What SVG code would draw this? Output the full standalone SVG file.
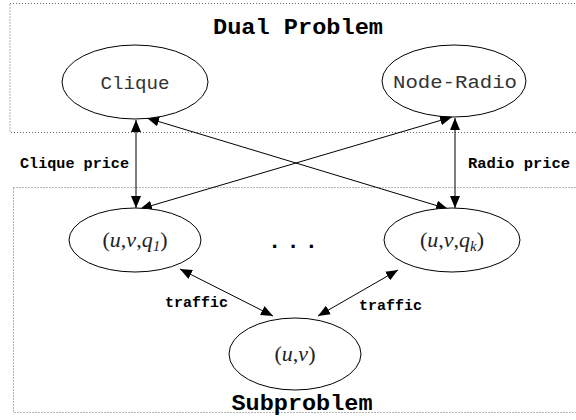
<svg xmlns="http://www.w3.org/2000/svg" width="576" height="420" viewBox="0 0 576 420">
  <style>
    .box { fill: none; stroke: #666; stroke-width: 1; stroke-dasharray: 1 2; }
    .node { fill: #fff; stroke: #000; stroke-width: 1; }
    .title { font-family: "Liberation Mono", "DejaVu Sans Mono", monospace; font-weight: bold; font-size: 22px; fill: #000; }
    .lbl { font-family: "Liberation Mono", "DejaVu Sans Mono", monospace; font-size: 18px; fill: #333; }
    .elbl { font-family: "Liberation Mono", "DejaVu Sans Mono", monospace; font-weight: bold; font-size: 14px; fill: #000; }
    .math { font-family: "Liberation Serif", "Times New Roman", serif; font-size: 22px; fill: #222; }
    .it { font-style: italic; }
    .edge { stroke: #000; stroke-width: 1; fill: none; marker-start: url(#ah); marker-end: url(#ah); }
  </style>
  <defs>
    <marker id="ah" viewBox="0 0 12 10" refX="12" refY="5" markerWidth="12" markerHeight="10" markerUnits="userSpaceOnUse" orient="auto-start-reverse">
      <path d="M0,0 L12,5 L0,10 Z" fill="#000"/>
    </marker>
  </defs>
  <rect width="576" height="420" fill="#fff"/>

  <g id="dual-problem">
    <rect class="box" x="10" y="3.5" width="580" height="129"/>
    <text class="title" x="298" y="34" text-anchor="middle" textLength="170" lengthAdjust="spacingAndGlyphs">Dual Problem</text>
  </g>
  <g id="subproblem">
    <rect class="box" x="13.5" y="187.5" width="580" height="225"/>
    <text class="title" x="302" y="410" text-anchor="middle" textLength="141" lengthAdjust="spacingAndGlyphs">Subproblem</text>
  </g>

  <g id="connectors">
    <line class="edge" x1="136" y1="120" x2="136" y2="208"/>
    <line class="edge" x1="455" y1="118" x2="455" y2="208"/>
    <line class="edge" x1="452" y1="117" x2="140" y2="209"/>
    <line class="edge" x1="147" y1="118" x2="448" y2="209"/>
    <line class="edge" x1="180" y1="269" x2="273" y2="316"/>
    <line class="edge" x1="398" y1="270" x2="318" y2="316"/>
    <text class="elbl" x="20" y="168" textLength="109" lengthAdjust="spacingAndGlyphs">Clique price</text>
    <text class="elbl" x="468" y="168" textLength="102" lengthAdjust="spacingAndGlyphs">Radio price</text>
    <text class="elbl" x="165" y="307" textLength="63" lengthAdjust="spacingAndGlyphs">traffic</text>
    <text class="elbl" x="359" y="310" textLength="63" lengthAdjust="spacingAndGlyphs">traffic</text>
  </g>

  <g id="clique">
    <ellipse class="node" cx="135" cy="82" rx="73" ry="37"/>
    <text class="lbl" x="135" y="89" text-anchor="middle" textLength="69" lengthAdjust="spacingAndGlyphs">Clique</text>
  </g>
  <g id="node-radio">
    <ellipse class="node" cx="454" cy="81" rx="72" ry="36"/>
    <text class="lbl" x="455" y="88" text-anchor="middle" textLength="124" lengthAdjust="spacingAndGlyphs">Node-Radio</text>
  </g>
  <g id="uvq1">
    <ellipse class="node" cx="135" cy="240" rx="66" ry="32"/>
    <text class="math" x="135" y="247" text-anchor="middle">(<tspan class="it">u</tspan>,<tspan class="it">v</tspan>,<tspan class="it">q</tspan><tspan class="it" font-size="15" dy="4">1</tspan><tspan dy="-4">)</tspan></text>
  </g>
  <g id="dots">
    <text class="title" x="293" y="248" text-anchor="middle" textLength="50" lengthAdjust="spacing">. . .</text>
  </g>
  <g id="uvqk">
    <ellipse class="node" cx="452" cy="240" rx="68" ry="32"/>
    <text class="math" x="452" y="247" text-anchor="middle">(<tspan class="it">u</tspan>,<tspan class="it">v</tspan>,<tspan class="it">q</tspan><tspan class="it" font-size="15" dy="4">k</tspan><tspan dy="-4">)</tspan></text>
  </g>
  <g id="uv">
    <ellipse class="node" cx="295" cy="354" rx="66" ry="36"/>
    <text class="math" x="295" y="361" text-anchor="middle">(<tspan class="it">u</tspan>,<tspan class="it">v</tspan>)</text>
  </g>
</svg>
